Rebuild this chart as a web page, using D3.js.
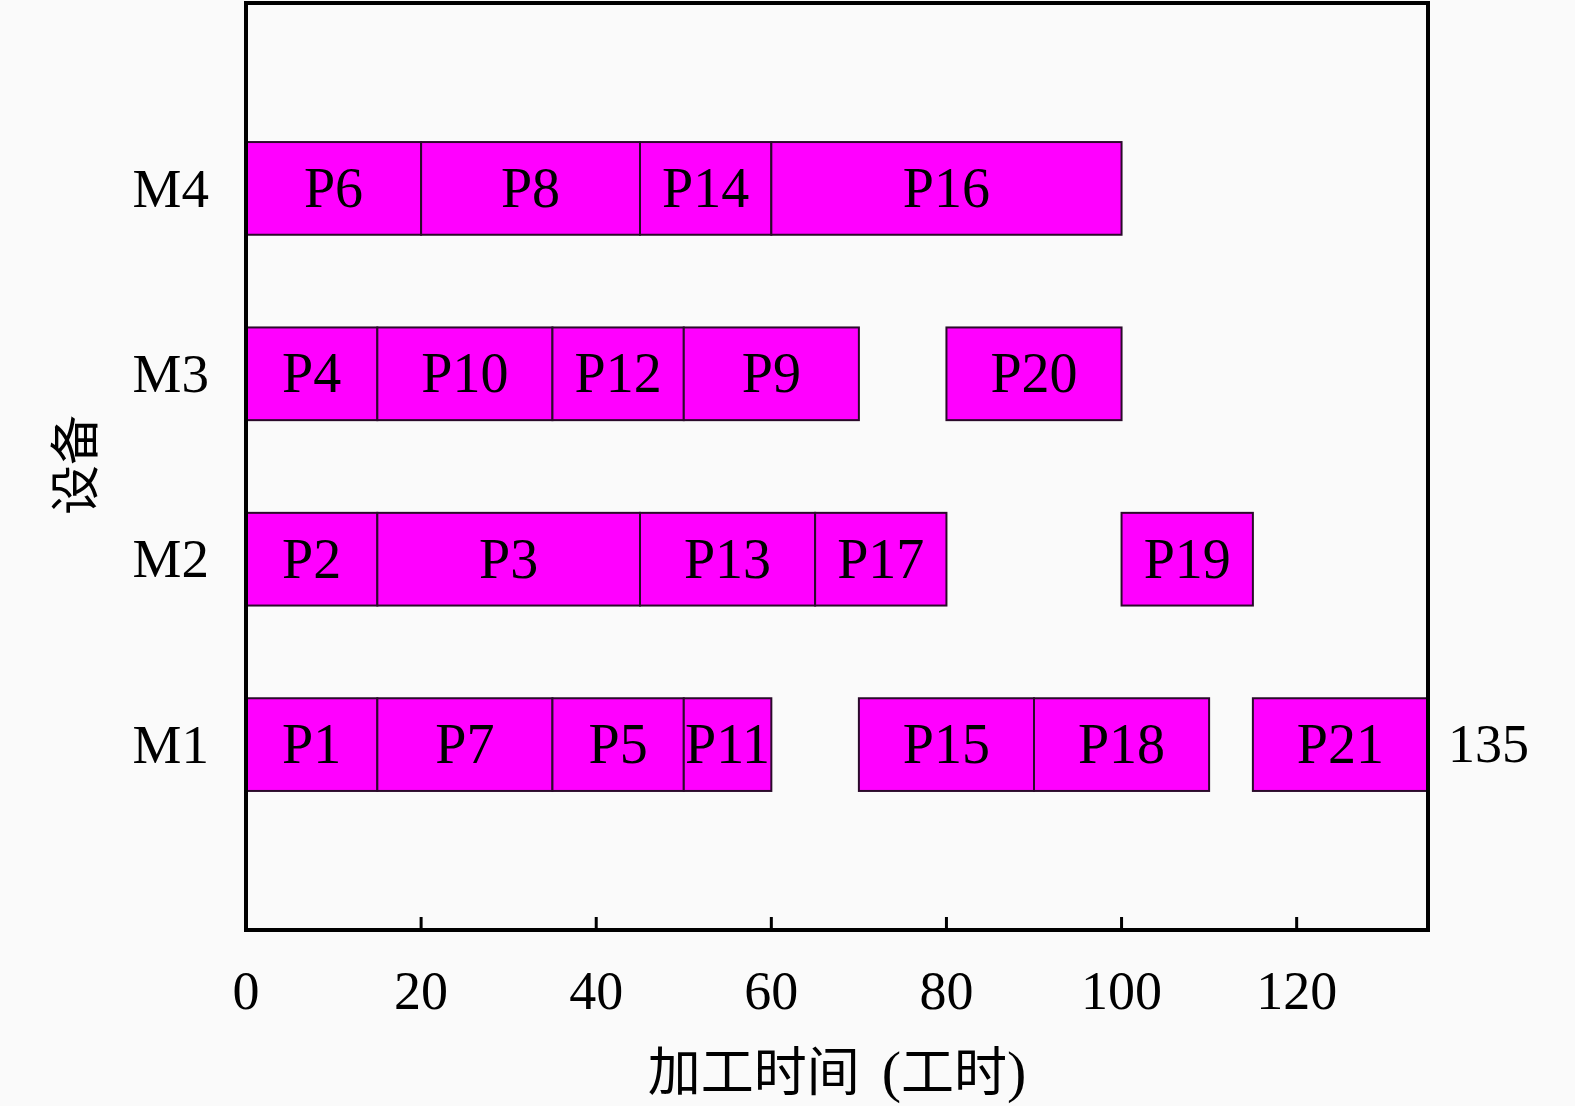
<!DOCTYPE html>
<html>
<head>
<meta charset="utf-8">
<script src="https://cdn.jsdelivr.net/npm/d3@7"></script>
<style>
  body { margin: 0; background: #fafafa; }
  svg { display: block; }
</style>
</head>
<body>
<div id="chart"></div>
<script>
const WIDTH = 1575;
const HEIGHT = 1106;

// machines, bottom to top
const machines = ["M1", "M2", "M3", "M4"];

// jobs per machine: [label, start, end]
const jobsM1 = [["P1", 0, 15], ["P7", 15, 35], ["P5", 35, 50], ["P11", 50, 60],
                ["P15", 70, 90], ["P18", 90, 110], ["P21", 115, 135]];
const jobsM2 = [["P2", 0, 15], ["P3", 15, 45], ["P13", 45, 65], ["P17", 65, 80],
                ["P19", 100, 115]];
const jobsM3 = [["P4", 0, 15], ["P10", 15, 35], ["P12", 35, 50], ["P9", 50, 70],
                ["P20", 80, 100]];
const jobsM4 = [["P6", 0, 20], ["P8", 20, 45], ["P14", 45, 60], ["P16", 60, 100]];

const xTicks = [20, 40, 60, 80, 100, 120];
const xTickLabels = [0, 20, 40, 60, 80, 100, 120];
const makespan = 135;

const margin = { top: 3, right: 147, bottom: 176, left: 246 };
const innerW = WIDTH - margin.left - margin.right;
const innerH = HEIGHT - margin.top - margin.bottom;

const x = d3.scaleLinear().domain([0, 135]).range([0, innerW]);
const y = d3.scaleLinear().domain([0, 5]).range([innerH, 0]);
const barH = y(0) - y(0.5);

const svg = d3.select("#chart")
    .append("svg")
    .attr("width", WIDTH)
    .attr("height", HEIGHT)
    .style("background", "#fafafa");

const g = svg.append("g")
    .attr("transform", `translate(${margin.left},${margin.top})`);

const serif = "'Liberation Serif', 'DejaVu Serif', serif";
const cjk = "'Noto Sans CJK SC', sans-serif";

const rows = [jobsM1, jobsM2, jobsM3, jobsM4];
const bars = [];
rows.forEach(function(jobs, i) {
    jobs.forEach(function(j) {
        bars.push({ machine: i + 1, label: j[0], start: j[1], end: j[2] });
    });
});

g.selectAll("rect.job")
    .data(bars)
    .enter().append("rect")
    .attr("class", "job")
    .attr("x", d => x(d.start))
    .attr("y", d => y(d.machine) - barH / 2)
    .attr("width", d => x(d.end) - x(d.start))
    .attr("height", barH)
    .attr("fill", "#ff00ff")
    .attr("stroke", "#2a0a2a")
    .attr("stroke-width", 2);

g.selectAll("text.job")
    .data(bars)
    .enter().append("text")
    .attr("class", "job")
    .attr("x", d => x((d.start + d.end) / 2))
    .attr("y", d => y(d.machine))
    .attr("dy", "0.33em")
    .attr("text-anchor", "middle")
    .attr("font-family", serif)
    .attr("font-size", 56)
    .attr("fill", "#000")
    .text(d => d.label);

// machine labels
g.selectAll("text.machine")
    .data(machines)
    .enter().append("text")
    .attr("class", "machine")
    .attr("x", -37)
    .attr("y", (d, i) => y(i + 1))
    .attr("dy", "0.33em")
    .attr("text-anchor", "end")
    .attr("font-family", serif)
    .attr("font-size", 55)
    .text(d => d);

// makespan label
g.append("text")
    .attr("x", x(makespan) + 20)
    .attr("y", y(1))
    .attr("dy", "0.33em")
    .attr("font-family", serif)
    .attr("font-size", 54)
    .text(makespan);

// inward ticks
g.selectAll("line.tick")
    .data(xTicks)
    .enter().append("line")
    .attr("class", "tick")
    .attr("x1", d => x(d))
    .attr("x2", d => x(d))
    .attr("y1", innerH)
    .attr("y2", innerH - 13)
    .attr("stroke", "#000")
    .attr("stroke-width", 3);

g.selectAll("text.xtick")
    .data(xTickLabels)
    .enter().append("text")
    .attr("class", "xtick")
    .attr("x", d => x(d))
    .attr("y", innerH + 79)
    .attr("text-anchor", "middle")
    .attr("font-family", serif)
    .attr("font-size", 54)
    .text(d => d);

// frame
g.append("rect")
    .attr("x", 0)
    .attr("y", 0)
    .attr("width", innerW)
    .attr("height", innerH)
    .attr("fill", "none")
    .attr("stroke", "#000")
    .attr("stroke-width", 4);

// axis titles
const xTitle = svg.append("text")
    .attr("x", margin.left + innerW / 2)
    .attr("y", 1091)
    .attr("text-anchor", "middle")
    .attr("font-family", cjk)
    .attr("font-size", 53);
xTitle.append("tspan").text("加工时间");
xTitle.append("tspan").attr("dx", 22).attr("font-family", serif).attr("font-size", 58).text("(");
xTitle.append("tspan").text("工时");
xTitle.append("tspan").attr("font-family", serif).attr("font-size", 58).text(")");

svg.append("text")
    .attr("transform", "translate(93,465) rotate(-90)")
    .attr("text-anchor", "middle")
    .attr("font-family", cjk)
    .attr("font-size", 50)
    .text("设备");
</script>
</body>
</html>
